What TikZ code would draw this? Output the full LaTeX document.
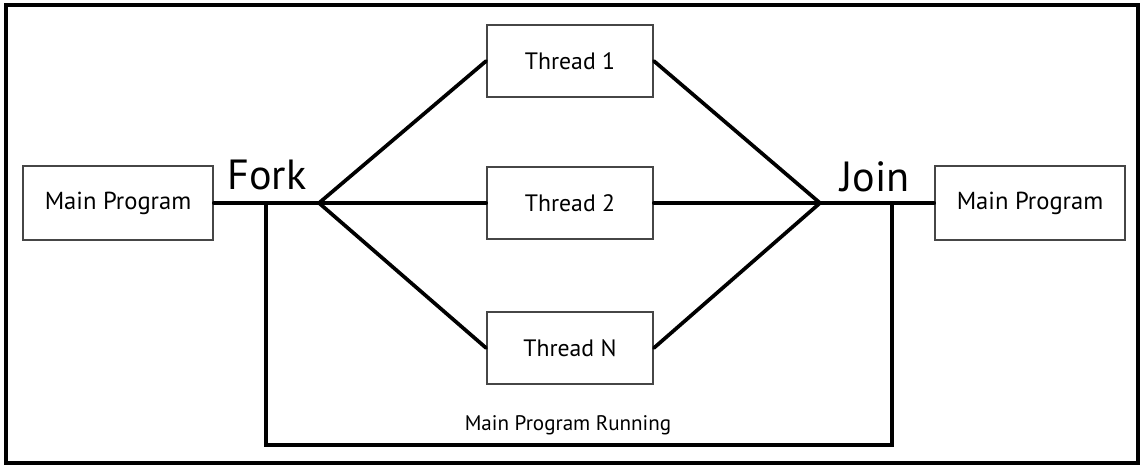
\documentclass[tikz,border=0pt]{standalone}
\usepackage{fontspec}
\setmainfont{PT Sans}
\usetikzlibrary{positioning}
\definecolor{boxline}{RGB}{70,70,70}

\begin{document}
\begin{tikzpicture}[x=0.02cm,y=-0.02cm,
    threadbox/.style={draw=boxline,line width=1pt,minimum width=3.32cm,minimum height=1.44cm,inner sep=0pt,font=\fontsize{13.5}{15}\selectfont},
    mainbox/.style={draw=boxline,line width=1pt,minimum width=3.8cm,minimum height=1.48cm,inner sep=0pt,font=\fontsize{14}{16}\selectfont},
    wire/.style={line width=2.1pt,line cap=round}]
  \useasboundingbox (0,0) rectangle (1143,466);
  % frame
  \draw[line width=2pt] (6,5) rectangle (1138,463);
  % main programs
  \node[mainbox] (mainL) at (118,203) {Main Program};
  \node[mainbox] (mainR) at (1030,203) {Main Program};
  % threads
  \node[threadbox] (t1) at (570,61) {Thread 1};
  \node[threadbox] (t2) at (570,203) {Thread 2};
  \node[threadbox] (tn) at (570,348) {Thread N};
  % fork and join points
  \coordinate (fork) at (319,203);
  \coordinate (join) at (820,203);
  \coordinate (forkdrop) at (266,203);
  \coordinate (joindrop) at (892,203);
  \coordinate (forkbot) at (266,445);
  \coordinate (joinbot) at (892,445);
  \node[font=\fontsize{24}{26}\selectfont] (forklbl) at (267,175) {Fork};
  \node[font=\fontsize{24}{26}\selectfont] (joinlbl) at (875,177) {Join};
  % wires
  \draw[wire] (mainL.east) -- (fork);
  \draw[wire] (fork) -- (t1.west);
  \draw[wire] (fork) -- (t2.west);
  \draw[wire] (fork) -- (tn.west);
  \draw[wire] (t1.east) -- (join);
  \draw[wire] (t2.east) -- (join);
  \draw[wire] (tn.east) -- (join);
  \draw[wire] (join) -- (mainR.west);
  % main program keeps running
  \draw[wire] (forkdrop) -- (forkbot) -- (joinbot) -- (joindrop);
  \node[font=\fontsize{12}{14}\selectfont] (running) at (568,425) {Main Program Running};
\end{tikzpicture}
\end{document}
